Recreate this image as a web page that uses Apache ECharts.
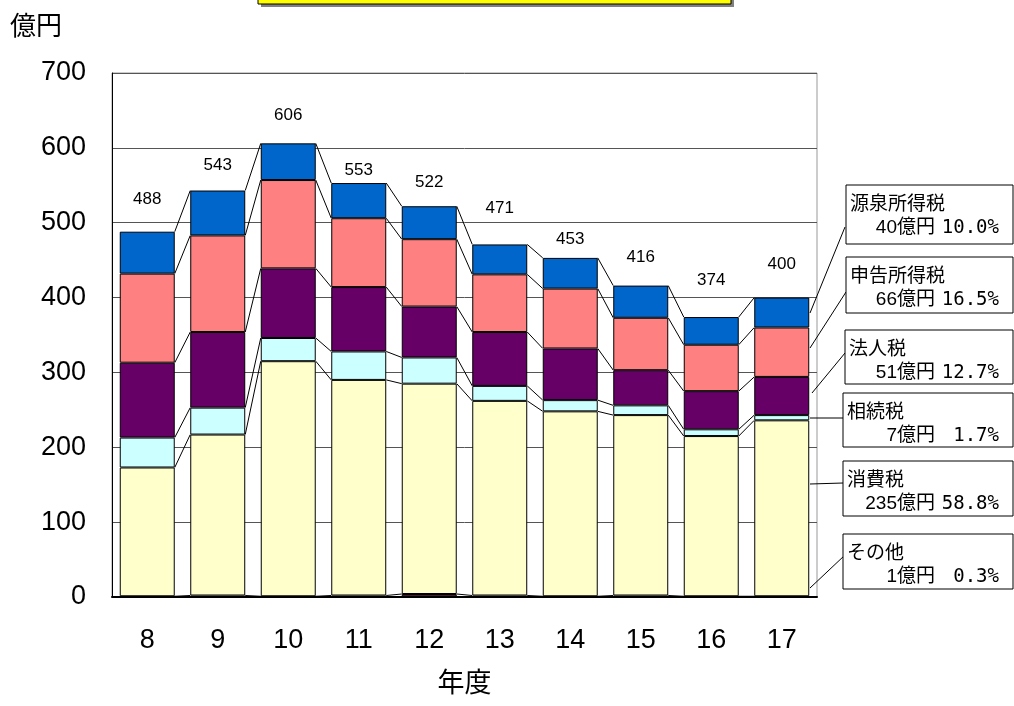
<!DOCTYPE html>
<html>
<head>
<meta charset="utf-8">
<script src="https://cdn.jsdelivr.net/npm/echarts@6/dist/echarts.min.js"></script>
<style>
html,body{margin:0;padding:0;background:#fff;}
#main{width:1014px;height:706px;}
</style>
</head>
<body>
<div id="main"></div>
<script>
// ---- data ----
const years = ['8','9','10','11','12','13','14','15','16','17'];
const seriesNames = ['その他','消費税','相続税','法人税','申告所得税','源泉所得税'];
const other       = [1, 2, 1, 2, 4, 2, 1, 2, 1, 1];
const consumption = [172, 215, 314, 288, 281, 260, 247, 241, 214, 235];
const inheritance = [40, 36, 31, 38, 35, 20, 15, 13, 9, 7];
const corporate   = [100, 101, 93, 86, 68, 72, 69, 47, 51, 51];
const filing      = [119, 129, 118, 92, 90, 77, 80, 70, 62, 66];
const withholding = [56, 60, 49, 47, 44, 40, 41, 43, 37, 40];
const totals      = [488, 543, 606, 553, 522, 471, 453, 416, 374, 400];
const lastShares  = [0.3, 58.8, 1.7, 12.7, 16.5, 10.0]; // % of latest year, same order as seriesNames
const yTicks      = [0, 100, 200, 300, 400, 500, 600, 700];

// ---- style ----
const FONT = "'Liberation Sans', 'Noto Sans CJK JP', sans-serif";
const colors = ['#4A1A33', '#FFFFCC', '#CCFFFF', '#660066', '#FF8080', '#0066CC'];
const BAR_RATIO = 0.78;
const stackArrays = [other, consumption, inheritance, corporate, filing, withholding];
const totalLabelDist = [24, 17, 20, 4, 15, 28, 10, 20, 28, 25];

const chart = echarts.init(document.getElementById('main'), null, {renderer: 'canvas'});

const barSeries = stackArrays.map((arr, k) => {
  const s = {
    name: seriesNames[k],
    type: 'bar',
    stack: 'total',
    barWidth: (BAR_RATIO * 100) + '%',
    itemStyle: {color: colors[k], borderColor: '#000', borderWidth: 1},
    emphasis: {disabled: true},
    data: arr.slice(),
    z: 3
  };
  if (k === stackArrays.length - 1) {
    s.data = arr.map((v, i) => ({value: v, label: {distance: totalLabelDist[i]}}));
    s.label = {
      show: true, position: 'top', color: '#000', fontSize: 17, fontFamily: FONT,
      formatter: p => String(totals[p.dataIndex])
    };
  }
  return s;
});

const connectorSeries = {
  type: 'custom',
  silent: true,
  z: 2,
  data: years.map((y, i) => [i, 0]),
  encode: {x: 0, y: 1},
  renderItem: function (params, api) {
    const i = api.value(0);
    if (i >= years.length - 1) return null;
    const bw = api.size([1, 0])[0] * BAR_RATIO;
    const children = [];
    let c0 = 0, c1 = 0;
    stackArrays.forEach(arr => {
      c0 += arr[i]; c1 += arr[i + 1];
      const p0 = api.coord([i, c0]);
      const p1 = api.coord([i + 1, c1]);
      children.push({
        type: 'line',
        shape: {x1: p0[0] + bw / 2, y1: p0[1], x2: p1[0] - bw / 2, y2: p1[1]},
        style: {stroke: '#000', lineWidth: 1}
      });
    });
    return {type: 'group', children: children};
  }
};

// callout boxes (annotation layout)
const boxes = [
  {k: 5, x: 846, y: 185, h: 59, lx: 845, ly: 227, bx: 810, by: 313},
  {k: 4, x: 846, y: 257, h: 56, lx: 846, ly: 292, bx: 810, by: 348},
  {k: 3, x: 845, y: 330, h: 54, lx: 845, ly: 353, bx: 812, by: 393},
  {k: 2, x: 843, y: 393, h: 54, lx: 843, ly: 418, bx: 810, by: 418},
  {k: 1, x: 843, y: 461, h: 55, lx: 843, ly: 483, bx: 810, by: 484},
  {k: 0, x: 843, y: 534, h: 55, lx: 845, ly: 555, bx: 810, by: 588}
];
const graphics = [
  {type: 'rect', shape: {x: 261, y: -40, width: 473, height: 47}, style: {fill: '#808080'}, z: 10},
  {type: 'rect', shape: {x: 258, y: -40, width: 473, height: 44}, style: {fill: '#FFFF00', stroke: '#000', lineWidth: 1}, z: 11}
];
const lastIdx = years.length - 1;
boxes.forEach(b => {
  const v = stackArrays[b.k][lastIdx];
  graphics.push({type: 'line', shape: {x1: b.lx, y1: b.ly, x2: b.bx, y2: b.by}, style: {stroke: '#000', lineWidth: 1}, z: 20});
  graphics.push({type: 'rect', shape: {x: b.x, y: b.y, width: 1013 - b.x, height: b.h}, style: {fill: '#fff', stroke: '#000', lineWidth: 1}, z: 20});
  graphics.push({type: 'text', x: b.x + 4, y: b.y + 20, style: {text: seriesNames[b.k], fontSize: 19, fontFamily: FONT, fill: '#000', textVerticalAlign: 'middle', textAlign: 'left'}, z: 21});
  graphics.push({type: 'text', x: 935, y: b.y + 43, style: {text: v + '億円', fontSize: 19, fontFamily: FONT, fill: '#000', textVerticalAlign: 'middle', textAlign: 'right'}, z: 21});
  graphics.push({type: 'text', x: 999, y: b.y + 43, style: {text: lastShares[b.k].toFixed(1) + '%', fontSize: 19, fontFamily: "'DejaVu Sans Mono', monospace", fill: '#000', textVerticalAlign: 'middle', textAlign: 'right'}, z: 21});
});

const option = {
  backgroundColor: '#fff',
  animation: false,
  textStyle: {fontFamily: FONT},
  grid: {left: 112, right: 197, top: 73, bottom: 109, containLabel: false, outerBoundsMode: 'none', show: true, borderColor: '#999', borderWidth: 1, backgroundColor: 'transparent'},
  xAxis: {
    type: 'category',
    data: years,
    name: '年度',
    nameLocation: 'middle',
    nameGap: 74,
    nameTextStyle: {fontSize: 27, color: '#000', fontFamily: FONT},
    axisTick: {show: false},
    axisLine: {lineStyle: {color: '#000', width: 2}},
    axisLabel: {fontSize: 27, color: '#000', margin: 30, fontFamily: FONT}
  },
  yAxis: {
    type: 'value',
    min: yTicks[0],
    max: yTicks[yTicks.length - 1],
    interval: yTicks[1] - yTicks[0],
    name: '億円',
    nameLocation: 'end',
    nameGap: 45,
    nameTextStyle: {fontSize: 26, color: '#000', fontFamily: FONT, align: 'right', verticalAlign: 'middle', padding: [0, 50, 0, 0]},
    axisLine: {show: true, lineStyle: {color: '#000', width: 1}},
    axisTick: {show: false},
    axisLabel: {fontSize: 27, color: '#000', margin: 26, fontFamily: FONT, padding: [4, 0, 0, 0]},
    splitLine: {show: true, lineStyle: {color: '#555', width: 1}}
  },
  series: barSeries.concat([connectorSeries]),
  graphic: graphics
};
chart.setOption(option);
</script>
</body>
</html>
